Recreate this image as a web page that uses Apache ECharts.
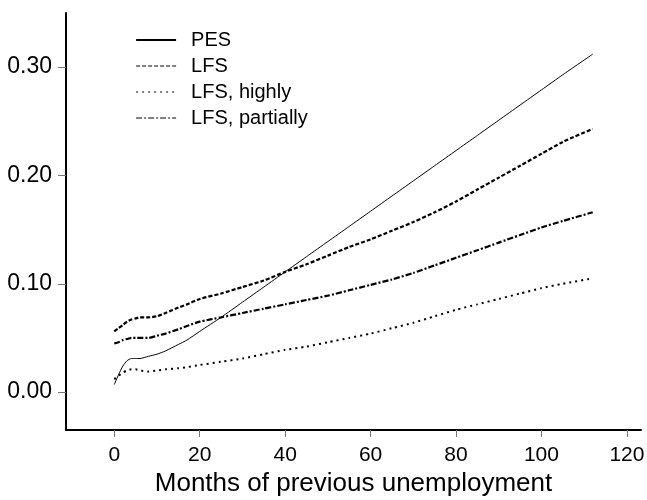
<!DOCTYPE html>
<html>
<head>
<meta charset="utf-8">
<script src="https://cdn.jsdelivr.net/npm/echarts@6/dist/echarts.min.js"></script>
<style>
  html, body { margin: 0; padding: 0; background: #fff; }
  #chart { width: 647px; height: 500px; }
</style>
</head>
<body>
<div id="chart"></div>
<script>
const months = [0, 1, 2, 3, 4, 5, 6, 8, 10, 12, 15, 17, 20, 25, 30, 35, 40, 45, 50, 55, 60, 65, 70, 75, 80, 85, 90, 95, 100, 105, 112];

const pes = [0.007, 0.016, 0.024, 0.029, 0.031, 0.031, 0.031, 0.033, 0.035, 0.038, 0.044, 0.048, 0.056, 0.069, 0.083, 0.097, 0.111, 0.125, 0.139, 0.153, 0.167, 0.181, 0.195, 0.209, 0.223, 0.237, 0.251, 0.265, 0.279, 0.293, 0.312];
const lfs = [0.056, 0.059, 0.062, 0.065, 0.067, 0.068, 0.069, 0.069, 0.070, 0.073, 0.078, 0.081, 0.086, 0.091, 0.097, 0.103, 0.111, 0.118, 0.126, 0.134, 0.141, 0.149, 0.157, 0.166, 0.176, 0.187, 0.198, 0.209, 0.220, 0.231, 0.243];
const lfsHighly = [0.012, 0.015, 0.018, 0.020, 0.021, 0.021, 0.020, 0.019, 0.020, 0.021, 0.022, 0.023, 0.025, 0.028, 0.031, 0.035, 0.039, 0.042, 0.046, 0.050, 0.054, 0.059, 0.064, 0.070, 0.076, 0.081, 0.086, 0.091, 0.096, 0.100, 0.105];
const lfsPartially = [0.045, 0.046, 0.048, 0.049, 0.050, 0.050, 0.050, 0.050, 0.052, 0.054, 0.058, 0.061, 0.065, 0.069, 0.073, 0.077, 0.081, 0.085, 0.089, 0.094, 0.099, 0.104, 0.110, 0.117, 0.124, 0.131, 0.138, 0.145, 0.152, 0.158, 0.166];

const xTicks = [0, 20, 40, 60, 80, 100, 120];
const yTicks = [0, 0.1, 0.2, 0.3];

const FONT = 'Arial, "Liberation Sans", Helvetica, sans-serif';

function zip(ys) {
    return months.map((m, i) => [m, ys[i]]);
}

function lineSeries(name, ys, width, type) {
    return {
        name,
        type: 'line',
        data: zip(ys),
        symbol: 'none',
        smooth: 0.2,
        lineStyle: { color: '#000', width, type },
        itemStyle: { color: '#000' },
        z: 3,
    };
}

const chart = echarts.init(document.getElementById('chart'), null, { renderer: 'canvas' });

chart.setOption({
    animation: false,
    textStyle: { fontFamily: FONT, color: '#000' },
    grid: {
        left: 66, right: 6, top: 13, bottom: 70,
        containLabel: false,
        outerBoundsMode: 'none',
    },
    legend: {
        orient: 'vertical',
        left: 135,
        top: 30,
        padding: 0,
        itemWidth: 40,
        itemHeight: 14,
        itemGap: 6,
        itemStyle: { opacity: 0 },
        textStyle: { fontFamily: FONT, fontSize: 20, color: '#000', lineHeight: 20, padding: [0, 0, 0, 10] },
        data: [
            { name: 'PES', lineStyle: { width: 2.2 } },
            { name: 'LFS', lineStyle: { width: 1 } },
            { name: 'LFS, highly', lineStyle: { width: 1 } },
            { name: 'LFS, partially', lineStyle: { width: 1 } },
        ],
    },
    xAxis: {
        type: 'value',
        min: -11.3,
        max: 123.3,
        name: 'Months of previous unemployment',
        nameLocation: 'middle',
        nameGap: 34,
        nameTextStyle: { fontFamily: FONT, fontSize: 26, color: '#000' },
        axisLine: { onZero: false, lineStyle: { color: '#000', width: 2 } },
        axisTick: { show: true, length: 7, customValues: xTicks, lineStyle: { color: '#777', width: 1 } },
        axisLabel: { customValues: xTicks, fontSize: 21, color: '#000', margin: 15, fontFamily: FONT },
        splitLine: { show: false },
    },
    yAxis: {
        type: 'value',
        min: -0.035,
        max: 0.35,
        axisLine: { show: true, onZero: false, lineStyle: { color: '#000', width: 2 } },
        axisTick: { show: true, length: 8, customValues: yTicks, lineStyle: { color: '#777', width: 1 } },
        axisLabel: {
            customValues: yTicks,
            fontSize: 23,
            color: '#000',
            margin: 14,
            fontFamily: FONT,
            formatter: v => v.toFixed(2),
        },
        splitLine: { show: false },
    },
    series: [
        lineSeries('PES', pes, 1, 'solid'),
        lineSeries('LFS', lfs, 2.2, [4, 2]),
        lineSeries('LFS, highly', lfsHighly, 2, [2, 4]),
        lineSeries('LFS, partially', lfsPartially, 2.2, [6, 2, 2, 2]),
    ],
});
</script>
</body>
</html>
